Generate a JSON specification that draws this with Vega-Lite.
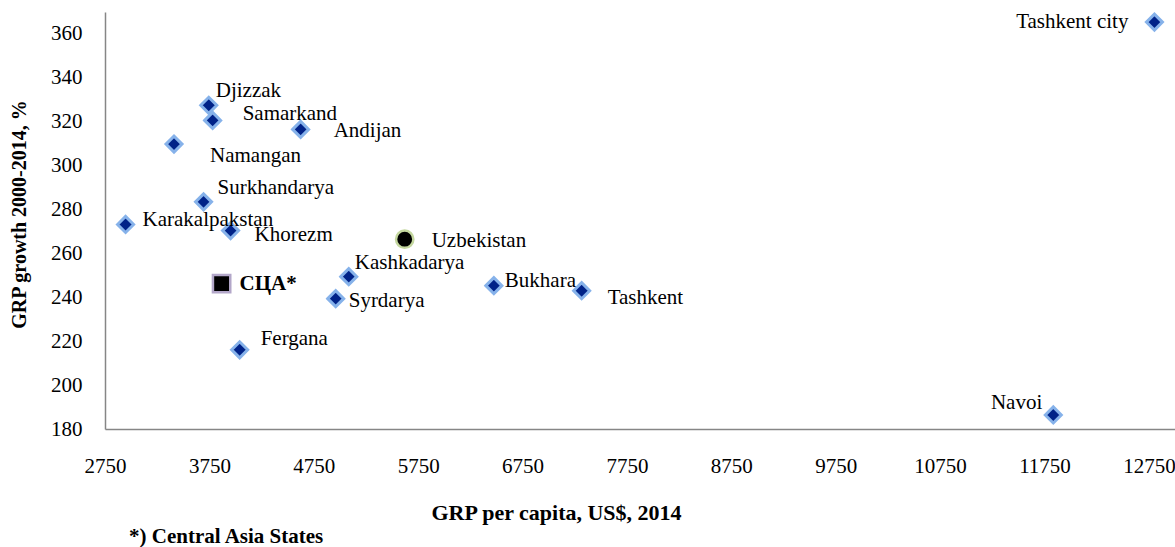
{
  "$schema": "https://vega.github.io/schema/vega-lite/v6.json",
  "autosize": "none",
  "width": 1070,
  "height": 417,
  "padding": {"left": 105, "top": 12, "right": 0, "bottom": 118},
  "background": "white",
  "config": {
    "view": {"stroke": null},
    "font": "Liberation Serif",
    "text": {"font": "Liberation Serif", "fontSize": 21, "color": "#000000"}
  },
  "title": {
    "text": "*) Central Asia States",
    "orient": "bottom",
    "anchor": "start",
    "frame": "group",
    "dx": 24,
    "offset": 3,
    "font": "Liberation Serif",
    "fontSize": 21,
    "fontWeight": "bold",
    "color": "#000000"
  },
  "data": {
    "values": [
      {"name": "Tashkent city", "gdp": 12803, "growth": 365.4, "type": "region"},
      {"name": "Djizzak", "gdp": 3744, "growth": 327.5, "type": "region"},
      {"name": "Samarkand", "gdp": 3781, "growth": 320.6, "type": "region"},
      {"name": "Andijan", "gdp": 4624, "growth": 316.5, "type": "region"},
      {"name": "Namangan", "gdp": 3411, "growth": 309.8, "type": "region"},
      {"name": "Surkhandarya", "gdp": 3694, "growth": 283.5, "type": "region"},
      {"name": "Karakalpakstan", "gdp": 2947, "growth": 273.2, "type": "region"},
      {"name": "Khorezm", "gdp": 3953, "growth": 270.4, "type": "region"},
      {"name": "Kashkadarya", "gdp": 5085, "growth": 249.4, "type": "region"},
      {"name": "Syrdarya", "gdp": 4960, "growth": 239.4, "type": "region"},
      {"name": "Bukhara", "gdp": 6475, "growth": 245.3, "type": "region"},
      {"name": "Tashkent", "gdp": 7316, "growth": 243.0, "type": "region"},
      {"name": "Fergana", "gdp": 4040, "growth": 216.1, "type": "region"},
      {"name": "Navoi", "gdp": 11834, "growth": 186.4, "type": "region"},
      {"name": "Uzbekistan", "gdp": 5621, "growth": 266.5, "type": "country"},
      {"name": "СЦА*", "gdp": 3867, "growth": 246.2, "type": "csa"}
    ]
  },
  "encoding": {
    "x": {
      "field": "gdp", "type": "quantitative",
      "scale": {"domain": [2750, 13000], "nice": false, "zero": false},
      "axis": {
        "values": [2750, 3750, 4750, 5750, 6750, 7750, 8750, 9750, 10750, 11750, 12750],
        "format": "d",
        "grid": false, "ticks": false,
        "domainColor": "#868686", "domainWidth": 1.5,
        "labelFont": "Liberation Serif", "labelFontSize": 21, "labelColor": "#000000",
        "labelPadding": 26, "labelOverlap": false, "labelFlush": false,
        "title": "GRP per capita, US$, 2014",
        "titleFont": "Liberation Serif", "titleFontSize": 22, "titleFontWeight": "bold", "titleColor": "#000000",
        "titleX": 451, "titleY": 83, "titleAlign": "center", "titleBaseline": "middle", "titleAnchor": null
      }
    },
    "y": {
      "field": "growth", "type": "quantitative",
      "scale": {"domain": [180, 370], "nice": false, "zero": false},
      "axis": {
        "values": [180, 200, 220, 240, 260, 280, 300, 320, 340, 360],
        "grid": false, "ticks": false,
        "domainColor": "#868686", "domainWidth": 1.5,
        "labelFont": "Liberation Serif", "labelFontSize": 21, "labelColor": "#000000",
        "labelPadding": 23, "labelOverlap": false, "labelFlush": false,
        "title": "GRP growth 2000-2014,  %",
        "titleFont": "Liberation Serif", "titleFontSize": 20, "titleFontWeight": "bold", "titleColor": "#000000",
        "titleX": -86, "titleY": 202, "titleAngle": -90, "titleAlign": "center", "titleBaseline": "middle"
      }
    }
  },
  "layer": [
    {
      "transform": [{"filter": "datum.type === 'region'"}],
      "mark": {"type": "point", "shape": "diamond", "filled": true, "size": 256, "fill": "#002288", "stroke": "#86B2EA", "strokeWidth": 3, "opacity": 1}
    },
    {
      "transform": [{"filter": "datum.type === 'country'"}],
      "mark": {"type": "point", "shape": "circle", "filled": true, "size": 300, "fill": "#000000", "stroke": "#C4D79F", "strokeWidth": 2.5, "opacity": 1}
    },
    {
      "transform": [{"filter": "datum.type === 'csa'"}],
      "mark": {"type": "point", "shape": "square", "filled": true, "size": 300, "fill": "#000000", "stroke": "#B3A7C9", "strokeWidth": 2.5, "opacity": 1}
    },
    {"transform": [{"filter": "datum.name === 'Tashkent city'"}], "mark": {"type": "text", "font": "Liberation Serif", "fontSize": 21, "align": "right", "baseline": "middle", "dx": -26, "dy": 0}, "encoding": {"text": {"field": "name"}}},
    {"transform": [{"filter": "datum.name === 'Djizzak'"}], "mark": {"type": "text", "font": "Liberation Serif", "fontSize": 21, "align": "left", "baseline": "middle", "dx": 7, "dy": -14}, "encoding": {"text": {"field": "name"}}},
    {"transform": [{"filter": "datum.name === 'Samarkand'"}], "mark": {"type": "text", "font": "Liberation Serif", "fontSize": 21, "align": "left", "baseline": "middle", "dx": 30, "dy": -6}, "encoding": {"text": {"field": "name"}}},
    {"transform": [{"filter": "datum.name === 'Andijan'"}], "mark": {"type": "text", "font": "Liberation Serif", "fontSize": 21, "align": "left", "baseline": "middle", "dx": 33, "dy": 2}, "encoding": {"text": {"field": "name"}}},
    {"transform": [{"filter": "datum.name === 'Namangan'"}], "mark": {"type": "text", "font": "Liberation Serif", "fontSize": 21, "align": "left", "baseline": "middle", "dx": 36, "dy": 12}, "encoding": {"text": {"field": "name"}}},
    {"transform": [{"filter": "datum.name === 'Surkhandarya'"}], "mark": {"type": "text", "font": "Liberation Serif", "fontSize": 21, "align": "left", "baseline": "middle", "dx": 14, "dy": -14}, "encoding": {"text": {"field": "name"}}},
    {"transform": [{"filter": "datum.name === 'Karakalpakstan'"}], "mark": {"type": "text", "font": "Liberation Serif", "fontSize": 21, "align": "left", "baseline": "middle", "dx": 17, "dy": -4}, "encoding": {"text": {"field": "name"}}},
    {"transform": [{"filter": "datum.name === 'Khorezm'"}], "mark": {"type": "text", "font": "Liberation Serif", "fontSize": 21, "align": "left", "baseline": "middle", "dx": 24, "dy": 4}, "encoding": {"text": {"field": "name"}}},
    {"transform": [{"filter": "datum.name === 'Uzbekistan'"}], "mark": {"type": "text", "font": "Liberation Serif", "fontSize": 21, "align": "left", "baseline": "middle", "dx": 27, "dy": 2}, "encoding": {"text": {"field": "name"}}},
    {"transform": [{"filter": "datum.name === 'Kashkadarya'"}], "mark": {"type": "text", "font": "Liberation Serif", "fontSize": 21, "align": "left", "baseline": "middle", "dx": 6, "dy": -14}, "encoding": {"text": {"field": "name"}}},
    {"transform": [{"filter": "datum.name === 'СЦА*'"}], "mark": {"type": "text", "font": "Liberation Serif", "fontSize": 21, "align": "left", "baseline": "middle", "dx": 18, "dy": 0, "fontWeight": "bold"}, "encoding": {"text": {"field": "name"}}},
    {"transform": [{"filter": "datum.name === 'Syrdarya'"}], "mark": {"type": "text", "font": "Liberation Serif", "fontSize": 21, "align": "left", "baseline": "middle", "dx": 13, "dy": 2}, "encoding": {"text": {"field": "name"}}},
    {"transform": [{"filter": "datum.name === 'Bukhara'"}], "mark": {"type": "text", "font": "Liberation Serif", "fontSize": 21, "align": "left", "baseline": "middle", "dx": 11, "dy": -5}, "encoding": {"text": {"field": "name"}}},
    {"transform": [{"filter": "datum.name === 'Tashkent'"}], "mark": {"type": "text", "font": "Liberation Serif", "fontSize": 21, "align": "left", "baseline": "middle", "dx": 26, "dy": 7}, "encoding": {"text": {"field": "name"}}},
    {"transform": [{"filter": "datum.name === 'Fergana'"}], "mark": {"type": "text", "font": "Liberation Serif", "fontSize": 21, "align": "left", "baseline": "middle", "dx": 21, "dy": -11}, "encoding": {"text": {"field": "name"}}},
    {"transform": [{"filter": "datum.name === 'Navoi'"}], "mark": {"type": "text", "font": "Liberation Serif", "fontSize": 21, "align": "right", "baseline": "middle", "dx": -11, "dy": -12}, "encoding": {"text": {"field": "name"}}}
  ]
}
